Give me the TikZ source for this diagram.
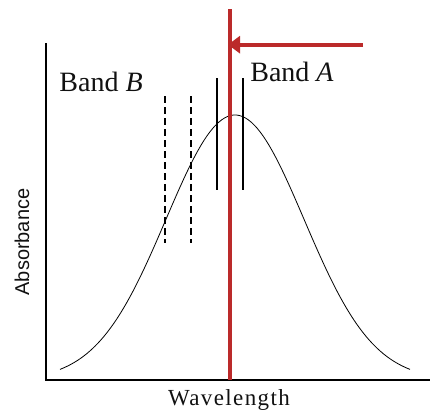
\documentclass[tikz,border=0pt]{standalone}
\usepackage{fontspec}
\setmainfont{Liberation Serif}
\setsansfont{Liberation Sans}
\usepackage{xcolor}
\definecolor{bandRed}{HTML}{BB2A2A}
\definecolor{darkText}{HTML}{111111}
\usepackage{tikz}
\usetikzlibrary{
    arrows.meta,
    calc
}
\tikzset{
    % Axis lines
    axis line/.style={
        line width=2.6pt,
        draw=black,
    },
    % Red reference wavelength
    red line/.style={
        line width=3.6pt,
        draw=bandRed,
    },
    % Red arrow pointing at the line
    red arrow/.style={
        -{Triangle[length=12pt, width=17pt]},
        line width=4pt,
        draw=bandRed,
    },
    % Band edges
    band edge/.style={
        line width=1.8pt,
        draw=black,
    },
    band edge dashed/.style={
        band edge,
        dash pattern=on 7pt off 4pt,
    },
    % Absorption curve
    curve/.style={
        line width=0.8pt,
        draw=black,
    },
    % Text labels
    band label/.style={
        font=\fontsize{28}{30}\selectfont,
        text=darkText,
        inner sep=0pt,
        anchor=base,
    },
    axis label/.style={
        font=\fontsize{20}{22}\selectfont,
        text=darkText,
        inner sep=0pt,
        anchor=base,
    },
}

\begin{document}
\begin{tikzpicture}[x=1pt, y=-1pt]
    \useasboundingbox (0,0) rectangle (430,415);

    % axes
    \coordinate (ytop) at (46,43);
    \coordinate (origin) at (46,380);
    \coordinate (xend) at (430,380);
    \draw [axis line] (ytop) -- (origin) -- (xend);

    % absorption band
    \draw [curve] plot [domain=60:410, samples=120, smooth]
        (\x, {380-265*exp(-0.5*((\x-235)/69)^2)});

    % band B (dashed) and band A (solid)
    \draw [band edge dashed] (165,96) coordinate (bBl) -- (165,243);
    \draw [band edge dashed] (191,96) coordinate (bBr) -- (191,243);
    \draw [band edge] (217,78) coordinate (bAl) -- (217,190);
    \draw [band edge] (243,78) coordinate (bAr) -- (243,190);

    % selected wavelength
    \coordinate (lamtop) at (230,9);
    \coordinate (lambot) at (230,380);
    \draw [red line] (lamtop) -- (lambot);
    \coordinate (arrowtail) at (363,44.7);
    \coordinate (arrowtip) at (228,44.7);
    \draw [red arrow] (arrowtail) -- (arrowtip);

    % labels
    \node (bandB) [band label] at (101,91) {Band \textit{B}};
    \node (bandA) [band label] at (292,81) {Band \textit{A}};
    \node (xlabel) [axis label, font=\fontsize{23}{25}\selectfont] at (229,405)
        {\addfontfeature{LetterSpace=6}Wavelength};
    \node (ylabel) [axis label, rotate=90, font=\sffamily\fontsize{20}{22}\selectfont]
        at (29,242) {Absorbance};
\end{tikzpicture}
\end{document}
